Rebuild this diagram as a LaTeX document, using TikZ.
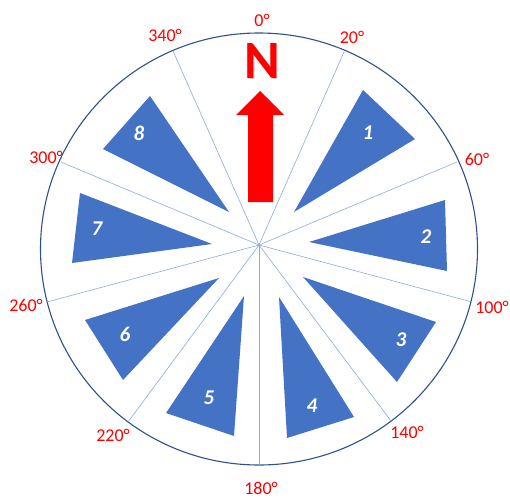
\documentclass[tikz,border=0pt]{standalone}
\usepackage{fontspec}
\setmainfont{Carlito}
\definecolor{triblue}{HTML}{4472C4}
\definecolor{spokeblue}{HTML}{8FAADC}
\definecolor{rimblue}{HTML}{2F528F}
\definecolor{degred}{HTML}{FF0000}
\begin{document}
\begin{tikzpicture}[x=1pt,y=-1pt,
  spoke/.style={draw=spokeblue, line width=0.6pt},
  tri/.style={fill=triblue, draw=none},
  deg/.style={text=degred, font=\fontsize{18}{18}\selectfont, inner sep=0pt},
  num/.style={text=white, font=\fontsize{21}{21}\selectfont\bfseries\itshape, inner sep=0pt}]
\useasboundingbox (0,0) rectangle (510,500);
\fill[white] (0,0) rectangle (510,500);
% rim
\draw[draw=rimblue, line width=1.1pt] (259,249) ellipse [x radius=218.5, y radius=216];
% spokes
\coordinate (c) at (259,245);
\coordinate (e20) at (344,52);
\coordinate (e60) at (457,162);
\coordinate (e100) at (472,302);
\coordinate (e140) at (391,421);
\coordinate (e180) at (259,465);
\coordinate (e220) at (128,422);
\coordinate (e260) at (47,302);
\coordinate (e300) at (61,162);
\coordinate (e340) at (173,51);
\foreach \e in {e20,e60,e100,e140,e180,e220,e260,e300,e340}
  \draw[spoke] (c) -- (\e);
% triangles
\fill[tri] (363,90) -- (415,139) -- (294,212) -- cycle;
\fill[tri] (445,200) -- (447,271) -- (309,242) -- cycle;
\fill[tri] (303,277) -- (436,322) -- (397,382) -- cycle;
\fill[tri] (279,297) -- (354,417) -- (287,438) -- cycle;
\fill[tri] (244,296) -- (234,436) -- (166,413) -- cycle;
\fill[tri] (219,278) -- (85,320) -- (123,380) -- cycle;
\fill[tri] (80,193) -- (212,244) -- (72,263) -- cycle;
\fill[tri] (150,96) -- (103,149) -- (229,212) -- cycle;
% numbers
\node[num] (n1) at (368,133) {1};
\node[num] (n2) at (426,237) {2};
\node[num] (n3) at (401,340) {3};
\node[num] (n4) at (312,406) {4};
\node[num] (n5) at (209,398) {5};
\node[num] (n6) at (125,334) {6};
\node[num] (n7) at (97,229) {7};
\node[num] (n8) at (139,133) {8};
% north arrow
\fill[degred] (260,91) -- (284,115) -- (273,115) -- (273,202) -- (248,202) -- (248,115) -- (236,115) -- cycle;
\node[text=black!40, opacity=0.5, font=\fontsize{54}{54}\selectfont\bfseries, inner sep=0pt] (Nsh) at (263.2,62.2) {N};
\node[text=degred, font=\fontsize{54}{54}\selectfont\bfseries, inner sep=0pt] (N) at (262,61) {N};
% degree labels
\node[deg] (d0) at (262,20) {0°};
\node[deg] (d20) at (352,37) {20°};
\node[deg] (d60) at (477,159) {60°};
\node[deg] (d100) at (492,307) {100°};
\node[deg] (d140) at (407,432) {140°};
\node[deg] (d180) at (261,488) {180°};
\node[deg] (d220) at (113,435) {220°};
\node[deg] (d260) at (26,305) {260°};
\node[deg] (d300) at (46,157) {300°};
\node[deg] (d340) at (165,35) {340°};
\end{tikzpicture}
\end{document}
